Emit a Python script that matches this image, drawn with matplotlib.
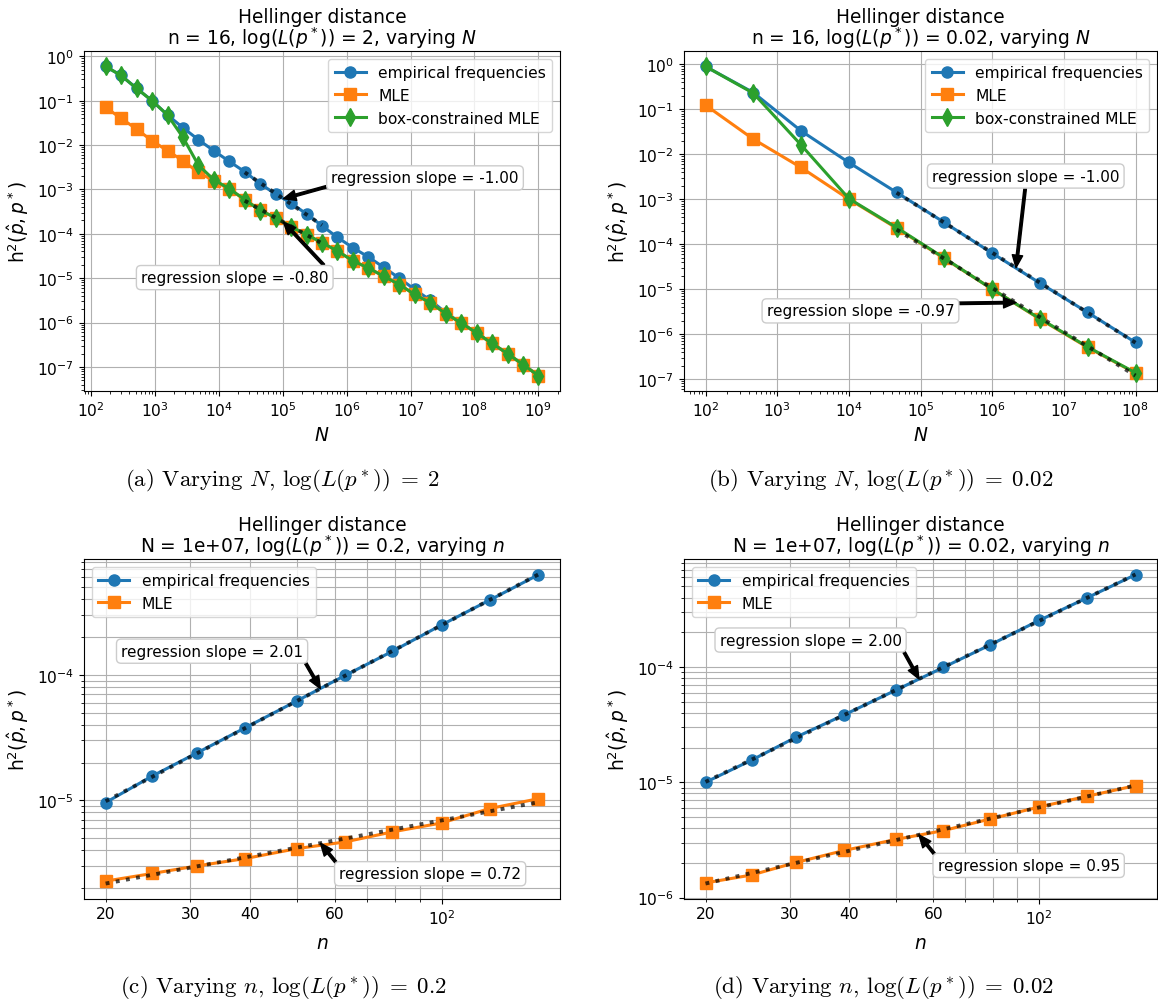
import numpy as np
import matplotlib
matplotlib.use('Agg')
import matplotlib.pyplot as plt
from matplotlib import ticker

plt.rcParams['font.size'] = 11.2
plt.rcParams['axes.titlesize'] = 13.4

# (a) n = 16, log(L(p*)) = 2, varying N
N_a = [1.70e2, 2.96e2, 5.17e2, 9.02e2, 1.58e3, 2.75e3, 4.80e3, 8.37e3, 1.46e4,
       2.55e4, 4.45e4, 7.76e4, 1.35e5, 2.36e5, 4.12e5, 7.19e5, 1.26e6, 2.19e6,
       3.82e6, 6.67e6, 1.16e7, 2.03e7, 3.54e7, 6.19e7, 1.08e8, 1.88e8, 3.29e8,
       5.74e8, 1.00e9]
emp_a = [0.59, 0.37, 0.19, 0.10, 0.0475, 0.0246, 0.0132, 7.44e-3, 4.28e-3,
         2.5e-3, 1.34e-3, 7.85e-4, 4.92e-4, 2.8e-4, 1.52e-4, 8.3e-5, 4.85e-5,
         3.0e-5, 1.75e-5, 1.0e-5, 5.6e-6, 3.2e-6, 1.68e-6, 9.8e-7, 5.85e-7,
         3.4e-7, 2.0e-7, 1.13e-7, 6.4e-8]
mle_a = [0.0708, 0.040, 0.023, 0.0125, 7.45e-3, 4.43e-3, 2.42e-3, 1.57e-3,
         1.02e-3, 5.85e-4, 3.48e-4, 2.25e-4, 1.42e-4, 9.5e-5, 6.3e-5, 4.1e-5,
         2.45e-5, 1.7e-5, 1.1e-5, 7.2e-6, 4.3e-6, 2.8e-6, 1.6e-6, 9.8e-7,
         5.85e-7, 3.4e-7, 2.0e-7, 1.13e-7, 6.4e-8]
box_a = [0.59, 0.37, 0.19, 0.10, 0.0475, 0.0149, 3.54e-3, 1.65e-3, 1.04e-3,
         5.9e-4, 3.35e-4, 2.3e-4, 1.45e-4, 9.6e-5, 6.3e-5, 4.1e-5, 2.45e-5,
         1.7e-5, 1.1e-5, 7.2e-6, 4.3e-6, 2.8e-6, 1.6e-6, 9.8e-7, 5.85e-7,
         3.4e-7, 2.0e-7, 1.13e-7, 6.4e-8]

# (b) n = 16, log(L(p*)) = 0.02, varying N
N_b = [1e2, 4.64e2, 2.15e3, 1e4, 4.64e4, 2.15e5, 1e6, 4.64e6, 2.15e7, 1e8]
emp_b = [0.89, 0.234, 0.033, 6.53e-3, 1.41e-3, 3.03e-4, 6.3e-5, 1.36e-5,
         3.03e-6, 6.53e-7]
mle_b = [0.123, 0.0216, 5.06e-3, 1.0e-3, 2.27e-4, 4.8e-5, 1.0e-5, 2.16e-6,
         5.06e-7, 1.36e-7]
box_b = [0.89, 0.227, 0.0161, 1.03e-3, 2.34e-4, 4.9e-5, 1.0e-5, 2.2e-6,
         5.2e-7, 1.38e-7]

# (c), (d) N = 1e7, varying n
n_cd = [20, 25, 31, 39, 50, 63, 79, 100, 126, 159]
emp_c = [9.6e-6, 1.56e-5, 2.39e-5, 3.78e-5, 6.2e-5, 9.9e-5, 1.54e-4, 2.50e-4,
         3.95e-4, 6.28e-4]
mle_c = [2.27e-6, 2.61e-6, 3.0e-6, 3.43e-6, 4.12e-6, 4.66e-6, 5.6e-6, 6.6e-6,
         8.6e-6, 1.03e-5]
emp_d = [1.0e-5, 1.56e-5, 2.47e-5, 3.84e-5, 6.28e-5, 9.93e-5, 1.56e-4, 2.54e-4,
         3.99e-4, 6.32e-4]
mle_d = [1.34e-6, 1.57e-6, 2.02e-6, 2.56e-6, 3.19e-6, 3.81e-6, 4.81e-6, 6.11e-6,
         7.57e-6, 9.35e-6]

slopes_a = ['-1.00', '-0.80']
slopes_b = ['-1.00', '-0.97']
slopes_c = ['2.01', '0.72']
slopes_d = ['2.00', '0.95']

titles = ['Hellinger distance\nn = 16, log($L(p^*)$) = 2, varying $N$',
          'Hellinger distance\nn = 16, log($L(p^*)$) = 0.02, varying $N$',
          'Hellinger distance\nN = 1e+07, log($L(p^*)$) = 0.2, varying $n$',
          'Hellinger distance\nN = 1e+07, log($L(p^*)$) = 0.02, varying $n$']
captions = [r'(a) Varying $N$, $\log(L(p^*))\;=\;2$',
            r'(b) Varying $N$, $\log(L(p^*))\;=\;0.02$',
            r'(c) Varying $n$, $\log(L(p^*))\;=\;0.2$',
            r'(d) Varying $n$, $\log(L(p^*))\;=\;0.02$']


def add_fit(ax, x, y, sl, label, offset):
    x = np.array(x)[sl]
    y = np.array(y)[sl]
    lx, ly = np.log10(x), np.log10(y)
    m, c = np.polyfit(lx, ly, 1)
    ax.plot(x, 10**(m*lx + c), 'k:', lw=2.8, alpha=0.7, zorder=5)
    xm = lx.mean()
    ax.annotate('regression slope = ' + label, xy=(10**xm, 10**(m*xm + c)),
                xytext=offset, textcoords='offset points', ha='center', va='center',
                fontsize=11, zorder=6,
                bbox=dict(boxstyle='round', fc='w', ec='0.8'),
                arrowprops=dict(facecolor='k', width=1.8, headwidth=7.5,
                                headlength=9, shrink=0))


def setup(ax, title, xlabel):
    ax.set_xscale('log')
    ax.set_yscale('log')
    ax.set_title(title, linespacing=0.95, pad=5)
    ax.set_xlabel(xlabel, fontsize=13.4)
    ax.set_ylabel(r'h$^2(\hat{p}, p^*)$', fontsize=13.4)


def minor_label(v, pos):
    # label only 2, 3, 4, 6 times the decade, plain numbers
    d = 10**np.floor(np.log10(v) + 1e-9)
    if int(round(v / d)) in (2, 3, 4, 6):
        return '%d' % round(v)
    return ''


fig = plt.figure(figsize=(11.58, 10.04), dpi=100)
W, H = 1158, 1004
ax_a = fig.add_axes([84/W, 1 - 392/H, 476/W, 340/H])
ax_b = fig.add_axes([684/W, 1 - 392/H, 473/W, 340/H])
ax_c = fig.add_axes([84/W, 1 - 900/H, 476/W, 340/H])
ax_d = fig.add_axes([684/W, 1 - 900/H, 473/W, 340/H])

kw = dict(lw=2.2, ms=8)

# (a)
ax = ax_a
ax.plot(N_a, emp_a, 'o-', color='C0', label='empirical frequencies', **kw)
ax.plot(N_a, mle_a, 's-', color='C1', label='MLE', **kw)
ax.plot(N_a, box_a, 'd-', color='C2', label='box-constrained MLE', ms=9, lw=2.2)
setup(ax, titles[0], '$N$')
ax.grid(True)
ax.legend(loc='upper right')
add_fit(ax, N_a, emp_a, slice(9, 15), slopes_a[0], (102, 15))
add_fit(ax, N_a, mle_a, slice(9, 15), slopes_a[1], (-35, -40))

# (b)
ax = ax_b
ax.plot(N_b, emp_b, 'o-', color='C0', label='empirical frequencies', **kw)
ax.plot(N_b, mle_b, 's-', color='C1', label='MLE', **kw)
ax.plot(N_b, box_b, 'd-', color='C2', label='box-constrained MLE', ms=9, lw=2.2)
setup(ax, titles[1], '$N$')
ax.grid(True)
ax.legend(loc='upper right')
add_fit(ax, N_b, emp_b, slice(4, 10), slopes_b[0], (7, 66))
add_fit(ax, N_b, mle_b, slice(4, 10), slopes_b[1], (-112, -6))

# (c)
ax = ax_c
ax.plot(n_cd, emp_c, 'o-', color='C0', label='empirical frequencies', **kw)
ax.plot(n_cd, mle_c, 's-', color='C1', label='MLE', **kw)
setup(ax, titles[2], '$n$')
ax.grid(True, which='both')
ax.xaxis.set_minor_formatter(ticker.FuncFormatter(minor_label))
ax.legend(loc='upper left')
add_fit(ax, n_cd, emp_c, slice(0, 10), slopes_c[0], (-78, 27))
add_fit(ax, n_cd, mle_c, slice(0, 10), slopes_c[1], (79, -22))

# (d)
ax = ax_d
ax.plot(n_cd, emp_d, 'o-', color='C0', label='empirical frequencies', **kw)
ax.plot(n_cd, mle_d, 's-', color='C1', label='MLE', **kw)
setup(ax, titles[3], '$n$')
ax.grid(True, which='both')
ax.xaxis.set_minor_formatter(ticker.FuncFormatter(minor_label))
ax.legend(loc='upper left')
add_fit(ax, n_cd, emp_d, slice(0, 10), slopes_d[0], (-78, 28))
add_fit(ax, n_cd, mle_d, slice(0, 10), slopes_d[1], (79, -22))

# captions under each panel
cap_pos = [(282, 480), (881, 480), (283, 988), (883, 988)]
for (cx, cy), cap in zip(cap_pos, captions):
    fig.text(cx/W, 1 - cy/H, cap, ha='center', va='center', fontsize=16.5,
             family='cmr10', math_fontfamily='cm')

fig.savefig('out.png', dpi=100)
